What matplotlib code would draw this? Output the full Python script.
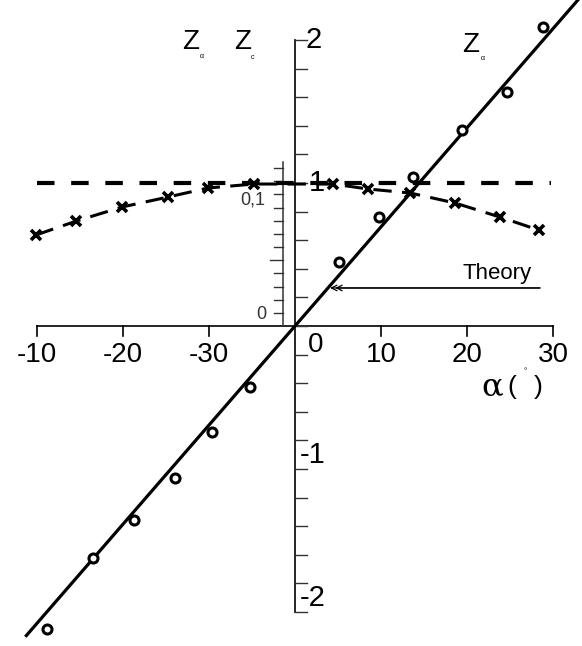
import matplotlib.pyplot as plt
import numpy as np

plt.rcParams["font.family"] = ["Liberation Sans", "DejaVu Sans"]

# measured Z_alpha (circles)
alpha_meas = [28.8, 24.6, 19.4, 13.7, 9.75, 5.1, -5.2, -9.6, -13.9, -18.7, -23.5, -28.8]
z_alpha_meas = [2.09, 1.64, 1.37, 1.04, 0.76, 0.45, -0.43, -0.74, -1.06, -1.36, -1.62, -2.12]

# measured Z_c (crosses)
alpha_c = [-30.1, -25.4, -20.1, -14.75, -10.1, -4.8, 4.4, 8.5, 13.4, 18.6, 23.8, 28.3]
z_c = [0.636, 0.734, 0.832, 0.902, 0.965, 0.993, 0.993, 0.958, 0.930, 0.860, 0.762, 0.671]

# theory line end points
theory_alpha = [-31.2, 33.5]
theory_z = [-2.165, 2.325]

# reference level for Z_c
ref_alpha = [-30.0, 29.7]
ref_z = [1.0, 1.0]

x_ticks = [-30, -20, -10, 10, 20, 30]
x_labels = ["-10", "-20", "-30", "10", "20", "30"]
y_minor = np.arange(-2, 2.01, 0.2)

# small Z_c scale beside the main axis
inset_ticks = np.arange(12) * 0.0125
inset_x = -1.39
inset_y0, inset_gain = 0.0909, 7.37

fig = plt.figure(figsize=(5.82, 6.46), dpi=100)
ax = fig.add_axes([0, 0, 1, 1])
ax.set_xlim(-34.26, 33.33)
ax.set_ylim(-2.238, 2.280)
ax.axis("off")

k = "black"
big = 20

# x axis
ax.plot([-30, 30], [0, 0], color=k, lw=1.2)
for t, lab in zip(x_ticks, x_labels):
    ax.plot([t, t], [0, -0.07], color=k, lw=1.2)
    ax.text(t, -0.205, lab, fontsize=big, ha="center", va="center")
ax.text(2.4, -0.133, "0", fontsize=big, ha="center", va="center")

# main y axis
ax.plot([0, 0], [-2, 2], color=k, lw=1.2)
for t in y_minor:
    ax.plot([0, 1.4], [t, t], color="#333333", lw=1.0)
ax.text(1.2, 2.0, "2", fontsize=big + 1, ha="left", va="center")
ax.text(1.6, 1.0, "1", fontsize=big + 1, ha="left", va="center")
ax.text(0.6, -1.0, "-1", fontsize=big + 1, ha="left", va="bottom")
ax.text(0.6, -2.0, "-2", fontsize=big + 1, ha="left", va="bottom")

# Z_c scale
ax.plot([inset_x, inset_x], [0, 1.147], color="#333333", lw=1.1)
for i, v in enumerate(inset_ticks):
    y = inset_y0 + inset_gain * v
    ln = 1.5 if i == 4 else 1.05
    ax.plot([inset_x - ln, inset_x], [y, y], color="#333333", lw=1.0)
ax.text(-3.9, inset_y0 - 0.01, "0", fontsize=13, color="#333333", ha="center", va="center")
ax.text(-4.9, 0.88, "0,1", fontsize=13, color="#333333", ha="center", va="center")

# curves
ax.plot(ref_alpha, ref_z, color=k, lw=3.0, ls=(0, (4.2, 4.0)))
ax.plot(alpha_c, z_c, color=k, lw=2.2, ls=(0, (6.0, 3.4)),
        marker="x", ms=6.5, mew=2.6)
ax.plot(theory_alpha, theory_z, color=k, lw=2.3)
ax.plot(alpha_meas, z_alpha_meas, ls="none", marker="o", ms=6.5,
        mfc="white", mec=k, mew=2.2)

# theory annotation
ax.text(23.5, 0.37, "Theory", fontsize=16, ha="center", va="center")
for dx in (0.0, 0.6):
    ax.annotate("", xy=(4.07 + dx, 0.266), xytext=(28.45, 0.266),
                arrowprops=dict(arrowstyle="->", color=k, lw=0.9,
                                shrinkA=0, shrinkB=0, mutation_scale=10))

# curve labels
ax.text(-12.08, 1.986, "Z", fontsize=20, ha="center", va="center")
ax.text(-10.8, 1.888, "α", fontsize=5, ha="center", va="center")
ax.text(-6.04, 1.986, "Z", fontsize=20, ha="center", va="center")
ax.text(-4.88, 1.881, "c", fontsize=5, ha="center", va="center")
ax.text(20.44, 1.965, "Z", fontsize=20, ha="center", va="center")
ax.text(21.8, 1.874, "α", fontsize=5, ha="center", va="center")

# axis title
ax.text(22.9, -0.428, "α", fontsize=23, family="DejaVu Serif", ha="center", va="center")
ax.text(25.2, -0.43, "(", fontsize=19, ha="center", va="center")
ax.text(26.7, -0.32, "°", fontsize=6, ha="center", va="center")
ax.text(28.2, -0.43, ")", fontsize=19, ha="center", va="center")

fig.savefig("out.png", dpi=100)
